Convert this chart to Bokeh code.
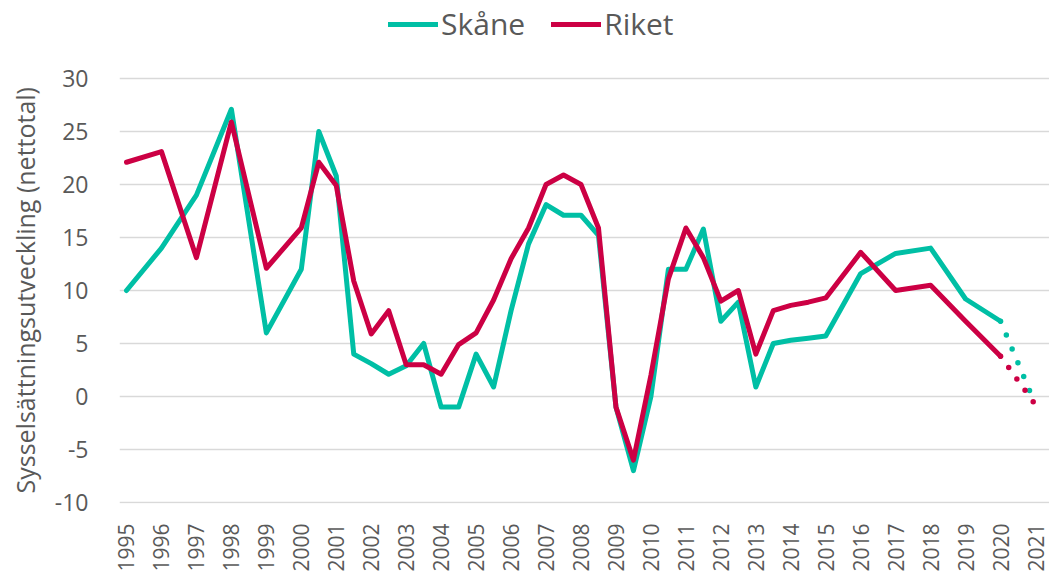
from bokeh.plotting import figure
from bokeh.models import Range1d, FixedTicker, Legend, LegendItem, Title
from bokeh.embed import file_html
from bokeh.resources import INLINE
import math

# ---- data ----
skane_x = [1995, 1996, 1997, 1998, 1999, 2000, 2000.5, 2001, 2001.5, 2002, 2002.5,
           2003, 2003.5, 2004, 2004.5, 2005, 2005.5, 2006, 2006.5, 2007, 2007.5,
           2008, 2008.5, 2009, 2009.5, 2010, 2010.5, 2011, 2011.5, 2012, 2012.5,
           2013, 2013.5, 2014, 2014.5, 2015, 2016, 2017, 2018, 2019, 2020]
skane_y = [10, 14, 19, 27.1, 6, 12, 25, 20.8, 4, 3.1, 2.1,
           2.9, 5.0, -1, -1, 4, 0.9, 8.1, 14.4, 18.1, 17.1,
           17.1, 15.2, -1, -7, 0, 12, 12, 15.8, 7.1, 8.9,
           0.9, 5.0, 5.3, 5.5, 5.7, 11.6, 13.5, 14.0, 9.2, 7.1]

riket_x = [1995, 1996, 1997, 1998, 1999, 2000, 2000.5, 2001, 2001.5, 2002, 2002.5,
           2003, 2003.5, 2004, 2004.5, 2005, 2005.5, 2006, 2006.5, 2007, 2007.5,
           2008, 2008.5, 2009, 2009.5, 2010, 2010.5, 2011, 2011.5, 2012, 2012.5,
           2013, 2013.5, 2014, 2014.5, 2015, 2016, 2017, 2018, 2019, 2020]
riket_y = [22.1, 23.1, 13.1, 25.9, 12.1, 15.9, 22.1, 19.9, 10.9, 5.9, 8.1,
           3.0, 3.0, 2.1, 4.9, 6.0, 9.1, 13.0, 15.9, 20.0, 20.9,
           20.0, 15.9, -1, -6, 2.0, 11.1, 15.9, 13.1, 9.0, 10.0,
           4.0, 8.1, 8.6, 8.9, 9.3, 13.6, 10.0, 10.5, 7.1, 3.8]

# forecast (dotted)
skane_fc_x = [2020, 2020.85]
skane_fc_y = [7.1, 0.4]
riket_fc_x = [2020, 2021]
riket_fc_y = [3.8, -0.8]

years = list(range(1995, 2022))
y_ticks = [-10, -5, 0, 5, 10, 15, 20, 25, 30]
y_tick_labels = ["-10", "-5", "0", "5", "10", "15", "20", "25", "30"]
y_label = "Sysselsättningsutveckling (nettotal)"

TEAL = "#00BFA5"
RED = "#CC0044"
GREY = "#595959"
FONT = "Open Sans"

p = figure(width=1049, height=576, output_backend="svg", toolbar_location=None,
           x_range=Range1d(1994.8, 2021.40), y_range=Range1d(-10.094, 37.36),
           min_border_left=115, min_border_right=0, min_border_top=0, min_border_bottom=73)
p.outline_line_color = None
p.background_fill_color = "white"

r1 = p.line(skane_x, skane_y, line_color=TEAL, line_width=5, line_join="round", line_cap="round")
r2 = p.line(riket_x, riket_y, line_color=RED, line_width=5, line_join="round", line_cap="round")
p.line(skane_fc_x, skane_fc_y, line_color=TEAL, line_width=5.5, line_cap="round", line_dash="0 15")
p.line(riket_fc_x, riket_fc_y, line_color=RED, line_width=5.5, line_cap="round", line_dash="0 14")

# axes
p.xaxis.ticker = FixedTicker(ticks=years)
p.xaxis.major_label_overrides = {y: str(y) for y in years}
p.xaxis.major_label_orientation = math.pi / 2
p.xaxis.axis_line_color = None
p.xaxis.major_tick_line_color = None
p.xaxis.minor_tick_line_color = None
p.xaxis.major_label_text_font = FONT
p.xaxis.major_label_text_font_size = "21px"
p.xaxis.major_label_text_color = GREY
p.xaxis.major_label_standoff = 14

p.yaxis.ticker = FixedTicker(ticks=y_ticks)
p.yaxis.major_label_overrides = dict(zip(y_ticks, y_tick_labels))
p.yaxis.axis_line_color = None
p.yaxis.major_tick_line_color = None
p.yaxis.minor_tick_line_color = None
p.yaxis.major_label_text_font = FONT
p.yaxis.major_label_text_font_size = "23px"
p.yaxis.major_label_text_color = GREY
p.yaxis.major_label_standoff = 25

ytitle = Title(text=y_label, align="left", vertical_align="top", offset=10, standoff=15,
               text_font=FONT, text_font_size="25px", text_font_style="normal",
               text_color=GREY)
p.add_layout(ytitle, "left")

p.xgrid.grid_line_color = None
p.ygrid.ticker = FixedTicker(ticks=y_ticks)
p.ygrid.grid_line_color = "#D9D9D9"
p.ygrid.grid_line_width = 1.5

legend = Legend(items=[LegendItem(label="Skåne", renderers=[r1]),
                       LegendItem(label="Riket", renderers=[r2])],
                location=(269, 459), orientation="horizontal",
                glyph_width=50, glyph_height=20, label_standoff=3, spacing=26,
                padding=0, margin=0, border_line_color=None, background_fill_alpha=0,
                label_text_font=FONT, label_text_font_size="30px", label_text_color=GREY)
p.add_layout(legend, "center")

open("out.html", "w").write(file_html(p, INLINE))
